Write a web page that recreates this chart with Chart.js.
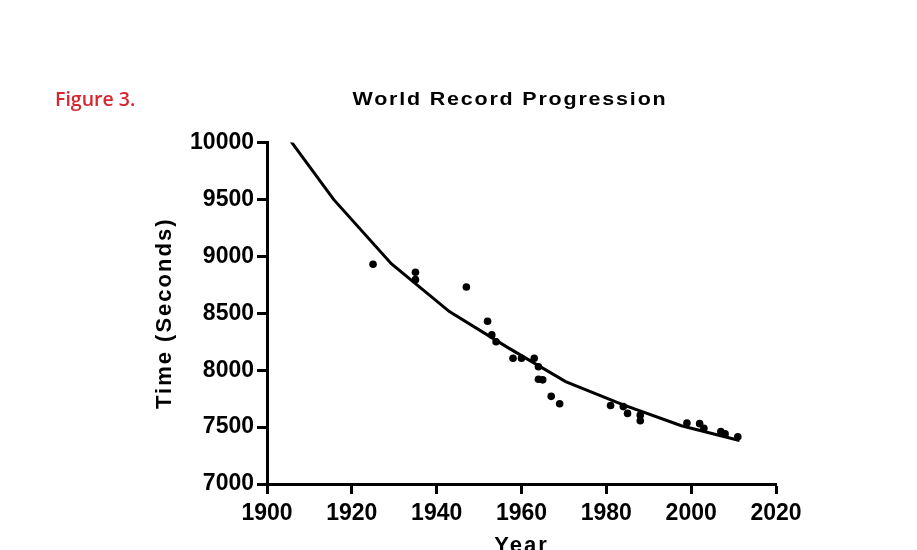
<!DOCTYPE html>
<html>
<head>
<meta charset="utf-8">
<script src="https://cdn.jsdelivr.net/npm/chart.js@4.4.0/dist/chart.umd.min.js"></script>
<style>
  body { margin: 0; background: #fff; }
  #wrap { position: relative; width: 917px; height: 550px; overflow: hidden; }
  #figLabel {
    position: absolute; left: 55px; top: 89px;
    font: 600 19.5px 'Open Sans', sans-serif; line-height: 19px; color: #d7262f;
  }
  /* the original title is a wide, slightly tracked bold sans */
  #plotTitle {
    position: absolute; left: 210px; top: 89px; width: 600px; text-align: center;
    font: bold 19px 'Liberation Sans', Arial, sans-serif; line-height: 20px;
    letter-spacing: 1.6px; color: #000;
    transform: scaleX(1.13); transform-origin: 300px 50%;
  }
</style>
</head>
<body>
<div id="wrap">
  <canvas id="recordChart" width="917" height="550"></canvas>
  <div id="figLabel">Figure 3.</div>
  <div id="plotTitle">World Record Progression</div>
</div>
<script>
const xTicks = [1900, 1920, 1940, 1960, 1980, 2000, 2020];
const yTicks = [7000, 7500, 8000, 8500, 9000, 9500, 10000];

// record times (seconds) by year
const recordYears = [1925, 1935, 1935, 1947, 1952, 1953, 1954, 1958, 1960, 1963, 1964, 1964, 1965,
  1967, 1969, 1981, 1984, 1985, 1988, 1988, 1999, 2002, 2003, 2007, 2008, 2011];
const recordTimes = [8930, 8860, 8795, 8730, 8430, 8310, 8250, 8105, 8105, 8105, 8030, 7920, 7915,
  7770, 7705, 7690, 7680, 7620, 7605, 7555, 7535, 7530, 7490, 7460, 7440, 7415];

// fitted curve, read at its vertices
const fitYears = [1902.0, 1915.7, 1929.3, 1943.0, 1956.7, 1970.4, 1984.0, 1997.7, 2011.4];
const fitTimes = [10195, 9500, 8935, 8515, 8200, 7900, 7695, 7512, 7382];

const tickFont = { family: "'Liberation Sans', Arial, sans-serif", size: 23, weight: 'bold' };
const axisTitleFont = { family: "'Liberation Sans', Arial, sans-serif", size: 22, weight: 'bold' };

// axis titles are letter-spaced in the original, tick labels are not
const titleSpacing = {
  id: 'titleSpacing',
  beforeDraw(chart) { chart.ctx.letterSpacing = '2px'; },
  beforeDatasetsDraw(chart) { chart.ctx.letterSpacing = '0px'; }
};

const axisGrid = { drawOnChartArea: false, tickLength: 10, tickWidth: 3, tickColor: '#000' };
const axisBorder = { display: true, width: 3, color: '#000' };

new Chart(document.getElementById('recordChart'), {
  type: 'scatter',
  data: {
    datasets: [{
      type: 'scatter',
      label: 'Records',
      data: recordYears.map((x, i) => ({ x, y: recordTimes[i] })),
      pointRadius: 3.8,
      pointBackgroundColor: '#000',
      pointBorderWidth: 0
    }, {
      type: 'line',
      label: 'Fit',
      data: fitYears.map((x, i) => ({ x, y: fitTimes[i] })),
      borderColor: '#000',
      borderWidth: 3,
      pointRadius: 0,
      tension: 0,
      clip: 0
    }]
  },
  options: {
    responsive: false,
    devicePixelRatio: 1,
    animation: false,
    layout: { padding: { left: 152, right: 141, top: 142.5, bottom: 0 } },
    plugins: {
      legend: { display: false },
      tooltip: { enabled: false }
    },
    scales: {
      x: {
        type: 'linear',
        min: 1900,
        max: 2020,
        afterBuildTicks: s => { s.ticks = xTicks.map(value => ({ value })); },
        afterFit: s => { s.height = 66; },
        grid: axisGrid,
        border: axisBorder,
        ticks: { z: 1, color: '#000', font: tickFont, padding: 5.5, maxRotation: 0, autoSkip: false,
          callback: v => String(v) },
        title: { display: true, text: 'Year', color: '#000', font: axisTitleFont,
          padding: { top: 0, bottom: -9.5 } }
      },
      y: {
        type: 'linear',
        min: 7000,
        max: 10000,
        afterBuildTicks: s => { s.ticks = yTicks.map(value => ({ value })); },
        afterFit: s => { s.width = 115; },
        grid: axisGrid,
        border: axisBorder,
        ticks: { z: 1, color: '#000', font: tickFont, padding: 3, autoSkip: false,
          callback: v => String(v) },
        title: { display: true, text: 'Time (Seconds)', color: '#000', font: axisTitleFont,
          padding: { top: 0, bottom: 0 } }
      }
    }
  },
  plugins: [titleSpacing]
});
</script>
</body>
</html>
